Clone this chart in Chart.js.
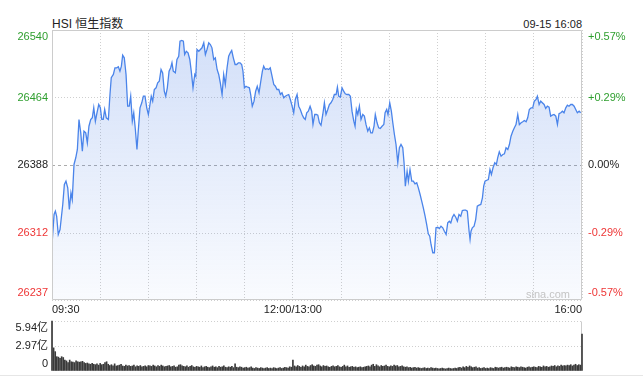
<!DOCTYPE html>
<html><head><meta charset="utf-8">
<script src="https://cdn.jsdelivr.net/npm/chart.js@4"></script>
<style>
html,body{margin:0;padding:0;background:#fff;}
body{width:643px;height:377px;position:relative;overflow:hidden;font-family:"Liberation Sans",Arial,"Noto Sans CJK SC",sans-serif;}
#title{position:absolute;left:52px;top:16px;font-size:12px;line-height:16px;color:#222;white-space:nowrap;}
#stamp{position:absolute;right:61px;top:16px;font-size:11px;line-height:16px;color:#222;white-space:nowrap;}
#wm{position:absolute;right:73px;top:287px;font-size:11px;line-height:14px;color:#c4c4c4;}
#pc{position:absolute;left:0;top:0;width:643px;height:320px;}
#vc{position:absolute;left:0;top:311px;width:643px;height:64px;}
#sep{position:absolute;left:0;width:643px;top:375px;height:1px;background:#e6e6e6;}
</style></head>
<body>
<div id="title">HSI 恒生指数</div>
<div id="stamp">09-15 16:08</div>
<canvas id="pc" width="643" height="320"></canvas>
<canvas id="vc" width="643" height="64"></canvas>
<div id="wm">sina.com</div>
<div id="sep"></div>
<script>
// ---- data (trading minutes from 09:30; 12:00/13:00 at minute 150) ----
const tradeMinutes = [
0,1.3,2.1,2.9,3.9,5.0,6.7,7.7,8.7,9.8,
10.8,11.8,12.6,13.7,14.8,15.8,16.8,17.9,18.9,19.9,
21.0,22.0,23.0,24.1,25.1,26.0,27.0,28.0,29.1,30.1,
31.0,31.9,32.8,33.8,35.1,36.1,36.9,38.2,39.2,40.3,
41.3,42.3,43.2,44.0,45.0,46.1,47.1,48.1,49.0,50.0,
50.9,51.9,52.9,53.7,54.8,55.9,56.9,57.9,59.0,60.0,
61.0,61.8,62.7,63.7,64.8,65.8,66.8,67.9,68.9,69.9,
70.8,71.8,72.9,73.9,74.7,75.5,76.8,77.8,78.9,79.7,
80.8,81.8,
82.6,83.6,84.7,85.8,86.7,87.8,88.9,89.5,90.3,91.4,
92.4,93.4,94.5,95.5,96.5,97.6,98.6,99.6,100.7,101.7,
102.8,103.8,104.8,105.9,106.9,107.9,109.0,110.0,111.0,111.9,
112.9,114.0,115.0,116.0,117.1,118.1,118.9,119.8,120.8,121.9,
122.9,123.7,124.7,125.8,126.8,127.8,128.9,130.0,131.0,131.8,
132.8,133.9,134.9,135.9,137.0,138.1,139.1,140.1,141.2,142.2,
143.2,144.3,145.3,146.3,147.4,148.4,149.5,150.5,151.5,152.6,
153.6,154.6,155.7,156.7,157.7,158.6,159.6,160.7,161.7,162.5,
163.6,164.6,165.5,
166.5,167.5,168.6,169.6,170.6,171.7,172.7,173.7,174.8,175.8,
176.9,177.7,178.5,179.5,180.6,181.6,182.6,183.7,184.8,185.8,
186.8,187.9,188.7,189.5,190.4,191.4,192.4,193.5,194.5,195.5,
196.6,197.6,198.5,199.5,200.5,201.3,202.4,203.4,204.4,205.5,
206.6,207.4,208.4,209.2,210.3,211.3,212.2,213.2,214.2,215.3,
216.3,217.3,218.4,219.2,220.0,221.1,221.9,222.9,224.0,225.0,
226.0,227.1,228.1,229.2,230.2,231.2,232.3,233.3,234.3,235.2,
236.0,237.1,238.1,239.1,240.2,241.2,242.2,243.3,244.3,245.4,
246.4,247.4,
248.3,249.3,250.3,251.4,252.4,253.4,254.5,255.5,256.6,257.6,
258.6,259.7,260.3,260.9,261.7,262.8,263.8,264.8,265.9,267.0,
268.0,268.8,269.6,270.7,271.7,272.7,273.6,274.6,275.7,276.7,
277.5,278.5,279.6,280.7,281.7,282.7,283.8,284.8,285.8,286.9,
287.9,288.9,290.0,291.0,292.1,293.1,294.1,295.2,296.2,297.2,
298.3,299.3,300.3,301.4,302.2,303.3,304.3,305.3,306.4,307.4,
308.4,309.5,310.5,311.5,312.6,313.7,314.7,315.7,316.8,317.8,
318.8,319.9,320.9,321.9,323.0,324.0,325.1,326.1,327.1,328.2,
329.2
];
const prices = [
26299.3,26333.0,26336.7,26331.0,26310.5,26316.1,26344.2,26366.6,26370.3,26362.9,
26338.6,26357.3,26349.8,26389.1,26396.6,26405.9,26439.6,26424.6,26404.0,26426.4,
26424.6,26413.4,26432.0,26439.6,26441.5,26452.7,26437.7,26447.1,26456.4,26452.7,
26439.6,26439.6,26450.8,26441.5,26439.6,26467.6,26486.4,26490.1,26497.6,26497.6,
26498.7,26493.8,26499.4,26511.7,26508.8,26490.1,26454.5,26454.5,26465.7,26437.7,
26447.1,26428.3,26405.9,26426.4,26452.7,26458.3,26465.7,26465.7,26452.7,26445.2,
26456.4,26465.7,26460.1,26473.2,26475.1,26480.7,26482.5,26495.7,26491.9,26471.3,
26465.7,26475.1,26493.8,26497.6,26503.2,26493.8,26492.0,26506.9,26510.6,26527.4,
26528.2,26527.4,
26512.5,26516.2,26514.4,26506.9,26493.8,26475.1,26490.1,26488.2,26518.1,26516.2,
26518.1,26520.0,26525.6,26512.5,26518.1,26525.6,26523.7,26520.0,26506.9,26508.8,
26495.7,26490.1,26480.7,26467.6,26490.1,26478.8,26497.6,26510.6,26514.4,26517.0,
26508.8,26501.3,26501.3,26503.2,26503.2,26501.3,26493.8,26475.1,26476.9,26475.8,
26475.1,26467.6,26454.5,26460.1,26471.3,26476.9,26469.5,26482.5,26493.8,26499.4,
26495.7,26496.5,26495.7,26497.6,26488.2,26478.8,26476.9,26473.2,26473.2,26467.6,
26469.5,26463.9,26465.7,26466.8,26467.6,26462.0,26454.5,26447.1,26462.0,26467.6,
26454.5,26450.8,26445.2,26441.5,26439.6,26447.1,26448.9,26454.5,26448.9,26434.0,
26445.2,26445.2,26444.4,
26435.9,26433.2,26445.2,26458.3,26445.2,26450.8,26456.4,26458.3,26462.0,26467.6,
26467.6,26475.8,26465.7,26464.6,26475.1,26471.3,26468.4,26467.6,26467.6,26465.7,
26448.9,26437.7,26432.0,26450.8,26445.2,26454.5,26439.6,26445.2,26443.3,26434.0,
26426.4,26430.2,26424.6,26424.6,26432.0,26445.2,26435.9,26430.2,26429.5,26432.0,
26433.9,26447.1,26450.8,26445.2,26458.3,26448.9,26435.9,26422.7,26411.5,26391.0,
26407.8,26411.5,26407.8,26391.0,26364.7,26381.5,26370.3,26383.5,26370.3,26370.3,
26367.4,26368.5,26362.9,26355.4,26347.9,26340.5,26331.0,26321.7,26311.3,26308.6,
26299.3,26290.0,26290.0,26318.0,26318.7,26317.2,26319.8,26318.0,26314.2,26310.5,
26323.6,26325.4,
26323.6,26329.9,26332.9,26329.9,26325.4,26332.9,26331.0,26337.4,26337.8,26337.8,
26336.7,26314.2,26304.9,26314.2,26318.0,26319.8,26327.3,26342.3,26343.4,26344.2,
26351.7,26364.7,26370.3,26371.4,26372.2,26383.5,26377.9,26385.4,26391.0,26389.1,
26396.6,26403.3,26398.4,26400.3,26401.0,26407.8,26405.9,26411.5,26420.8,26426.4,
26430.2,26433.9,26445.2,26433.9,26435.9,26437.0,26438.4,26437.0,26441.5,26450.8,
26452.7,26452.7,26460.1,26462.0,26465.7,26456.4,26460.1,26458.3,26456.4,26451.9,
26454.5,26453.4,26443.3,26444.4,26445.2,26443.3,26434.0,26446.0,26447.1,26448.9,
26447.1,26452.7,26455.6,26454.5,26456.4,26456.4,26454.5,26450.8,26447.1,26448.9,
26447.1
];
// volume per minute, in 亿 (1e8)
const volumes = [
5.94,2.75,2.3,1.7,1.65,1.5,1.7,1.6,1.3,1.2,
1.0,1.3,1.1,1.05,1.0,1.2,1.1,1.05,1.1,1.15,
1.0,0.9,0.95,0.85,0.8,0.9,0.8,0.75,0.85,0.7,
0.9,0.75,0.8,1.0,1.1,0.8,0.65,0.75,0.6,0.85,
0.6,0.65,0.7,0.8,0.6,0.55,0.7,0.6,0.65,0.55,
0.6,0.7,0.5,0.6,0.55,0.65,0.5,0.55,0.6,0.5,
0.65,0.6,0.55,0.7,0.6,0.5,0.65,0.55,0.7,0.6,
0.5,0.55,0.6,0.65,0.5,0.55,0.6,0.45,0.5,0.7,
0.75,0.6,0.55,0.5,0.6,0.45,0.55,0.65,0.5,0.45,
0.55,0.5,0.45,0.6,0.4,0.5,0.55,0.45,0.4,0.5,
0.6,0.45,0.5,0.4,0.55,0.45,0.5,0.6,0.45,0.4,
0.5,0.45,0.55,0.4,0.85,0.45,0.4,0.5,0.45,0.35,
0.4,0.45,0.35,0.4,0.5,0.35,0.3,0.4,0.35,0.3,
0.4,0.35,0.3,0.35,0.4,0.3,0.35,0.3,0.4,0.35,
0.3,0.35,0.4,0.3,0.35,0.45,0.4,0.35,0.5,0.45,
1.3,0.6,0.5,0.65,0.55,0.45,0.6,0.5,0.7,0.55,
0.5,0.65,0.75,0.6,0.55,0.7,0.75,0.6,0.5,0.65,
0.55,0.6,0.5,0.45,0.55,0.6,0.5,0.55,0.65,0.5,
0.45,0.55,0.7,0.5,0.6,0.45,0.5,0.55,0.45,0.5,
0.4,0.45,0.5,0.4,0.45,0.5,0.55,0.6,0.5,0.7,
0.8,0.55,0.75,0.6,0.5,0.65,0.55,0.6,0.7,0.55,
0.5,0.6,0.55,0.7,0.6,0.65,0.5,0.55,0.6,0.5,
0.45,0.5,0.4,0.45,0.35,0.4,0.45,0.35,0.4,0.35,
0.3,0.35,0.4,0.3,0.35,0.3,0.4,0.35,0.3,0.35,
0.3,0.25,0.3,0.35,0.3,0.25,0.3,0.35,0.3,0.25,
0.3,0.35,0.3,0.4,0.45,0.35,0.5,0.4,0.55,0.45,
0.6,0.5,0.4,0.45,0.5,0.35,0.4,0.3,0.35,0.4,
0.3,0.35,0.3,0.4,0.35,0.3,0.45,0.4,0.35,0.4,
0.45,0.35,0.4,0.45,0.4,0.35,0.5,0.45,0.4,0.5,
0.45,0.4,0.5,0.45,0.4,0.35,0.45,0.5,0.4,0.45,
0.5,0.45,0.4,0.55,0.5,0.45,0.6,0.5,0.55,0.45,
0.5,0.6,0.55,0.65,0.5,0.6,0.55,0.7,0.6,0.65,
0.6,0.7,0.65,0.75,0.6,0.7,0.8,0.65,0.75,0.7,
4.4
];
const priceTicks = [26237, 26312, 26388, 26464, 26540];
const priceLabels = ['26237', '26312', '26388', '26464', '26540'];
const pctLabels = ['-0.57%', '-0.29%', '0.00%', '+0.29%', '+0.57%'];
const prevClose = 26388;
const timeTicks = [0, 30, 60, 90, 120, 150, 180, 210, 240, 270, 300, 330];
const timeLabels = ['09:30', '', '', '', '', '12:00/13:00', '', '', '', '', '', '16:00'];
const volTicks = [0, 2.97, 5.94];
const volLabels = ['0', '2.97亿', '5.94亿'];

// ---- styling ----
const FONT = '"Liberation Sans", Arial, "Noto Sans CJK SC", sans-serif';
Chart.defaults.font.family = FONT;
const UP = '#2f9f2f', DOWN = '#ee3636', FLAT = '#222';
const GRID = '#cfcfcf';

function edgeLabel(text, i, n) {
  if (i === n - 1) return ['', text];
  if (i === 0) return [text, ''];
  return text;
}
function tickColor(ctx) {
  const v = ctx.tick ? ctx.tick.value : 0;
  return v > prevClose ? UP : (v < prevClose ? DOWN : FLAT);
}
function fixWidth(w) {
  return s => { s.width = w; s.paddingTop = 0; s.paddingBottom = 0; };
}

function drawFrame(chart, opts) {
  const {ctx, chartArea: a} = chart;
  const l = Math.round(a.left) + 0.5, r = Math.round(a.right) - 0.5;
  const t = Math.round(a.top) + 0.5, b = Math.round(a.bottom) - 0.5;
  ctx.save();
  ctx.strokeStyle = opts.color || '#cccccc';
  ctx.lineWidth = 1;
  ctx.setLineDash([]);
  ctx.beginPath();
  const s = opts.sides || 'tlrb';
  if (s.includes('t')) { ctx.moveTo(l, t); ctx.lineTo(r, t); }
  if (s.includes('b')) { ctx.moveTo(l, b); ctx.lineTo(r, b); }
  if (s.includes('l')) { ctx.moveTo(l, t); ctx.lineTo(l, b); }
  if (s.includes('r')) { ctx.moveTo(r, t); ctx.lineTo(r, b); }
  ctx.stroke();
  ctx.restore();
}
const framePlugin = {
  id: 'frame',
  beforeDatasetsDraw(chart, args, opts) { if (opts.under) drawFrame(chart, opts); },
  afterDraw(chart, args, opts) { if (!opts.under) drawFrame(chart, opts); }
};

new Chart(document.getElementById('pc'), {
  type: 'line',
  data: {
    datasets: [{
      data: tradeMinutes.map((m, i) => ({x: m, y: prices[i]})),
      borderColor: '#4a84ea',
      borderWidth: 1.3,
      pointRadius: 0,
      tension: 0,
      fill: 'start',
      backgroundColor: (c) => {
        const a = c.chart.chartArea;
        if (!a) return 'rgba(80,130,230,0.15)';
        const g = c.chart.ctx.createLinearGradient(0, a.top, 0, a.bottom);
        g.addColorStop(0, 'rgba(80,130,230,0.26)');
        g.addColorStop(1, 'rgba(80,130,230,0.03)');
        return g;
      },
      yAxisID: 'y'
    }]
  },
  options: {
    responsive: false,
    animation: false,
    layout: {padding: {top: 30, left: 0, right: 0, bottom: 0}},
    plugins: {legend: {display: false}, tooltip: {enabled: false}, frame: {color: '#cccccc', sides: 'tlrb', under: false}},
    scales: {
      x: {
        type: 'linear', min: 0, max: 330, offset: false,
        afterBuildTicks: s => { s.ticks = timeTicks.map(v => ({value: v})); },
        afterFit: s => { s.height = 20; s.paddingLeft = 0; s.paddingRight = 0; },
        grid: {drawTicks: false, color: GRID, lineWidth: 1},
        border: {display: false, dash: [1, 2]},
        ticks: {
          autoSkip: false, maxRotation: 0, align: 'inner', padding: 3,
          font: {size: 11}, color: '#222',
          callback: (v, i) => timeLabels[i]
        }
      },
      y: {
        type: 'linear', position: 'left',
        min: priceTicks[0], max: priceTicks[priceTicks.length - 1],
        afterBuildTicks: s => { s.ticks = priceTicks.map(v => ({value: v})); },
        afterFit: fixWidth(52),
        grid: {drawTicks: false, lineWidth: 1, color: c => (c.tick && c.tick.value === prevClose) ? '#ababab' : GRID},
        border: {display: false, dash: c => (c.tick && c.tick.value === prevClose) ? [3, 3] : [1, 2]},
        ticks: {
          autoSkip: false, padding: 4, font: {size: 11}, color: tickColor,
          callback: (v, i) => edgeLabel(priceLabels[i], i, priceLabels.length)
        }
      },
      y2: {
        type: 'linear', position: 'right',
        min: priceTicks[0], max: priceTicks[priceTicks.length - 1],
        afterBuildTicks: s => { s.ticks = priceTicks.map(v => ({value: v})); },
        afterFit: fixWidth(61),
        grid: {drawOnChartArea: false, drawTicks: false},
        border: {display: false},
        ticks: {
          autoSkip: false, padding: 6, font: {size: 11}, color: tickColor,
          callback: (v, i) => edgeLabel(pctLabels[i], i, pctLabels.length)
        }
      }
    }
  },
  plugins: [framePlugin]
});

new Chart(document.getElementById('vc'), {
  type: 'bar',
  data: {
    datasets: [{
      data: volumes.map((v, i) => ({x: i, y: v})),
      backgroundColor: '#3a3a3a',
      barThickness: 1,
      borderWidth: 0,
      clip: false
    }]
  },
  options: {
    responsive: false,
    animation: false,
    layout: {padding: {top: 10, left: 0, right: 61, bottom: 4}},
    plugins: {legend: {display: false}, tooltip: {enabled: false}, frame: {color: '#cccccc', sides: 'lr', under: true}},
    scales: {
      x: {type: 'linear', min: 0, max: 330, offset: false, display: false, grid: {offset: false}},
      y: {
        type: 'linear', min: 0, max: volTicks[volTicks.length - 1],
        afterBuildTicks: s => { s.ticks = volTicks.map(v => ({value: v})); },
        afterFit: fixWidth(52),
        grid: {drawTicks: false, lineWidth: 1, color: c => (c.tick && c.tick.value === 0) ? 'rgba(0,0,0,0)' : GRID},
        border: {display: false, dash: [1, 2]},
        ticks: {
          autoSkip: false, padding: 4, font: {size: 11}, color: '#222',
          callback: (v, i) => edgeLabel(volLabels[i], i, volLabels.length)
        }
      }
    }
  },
  plugins: [framePlugin]
});
</script>
</body></html>
